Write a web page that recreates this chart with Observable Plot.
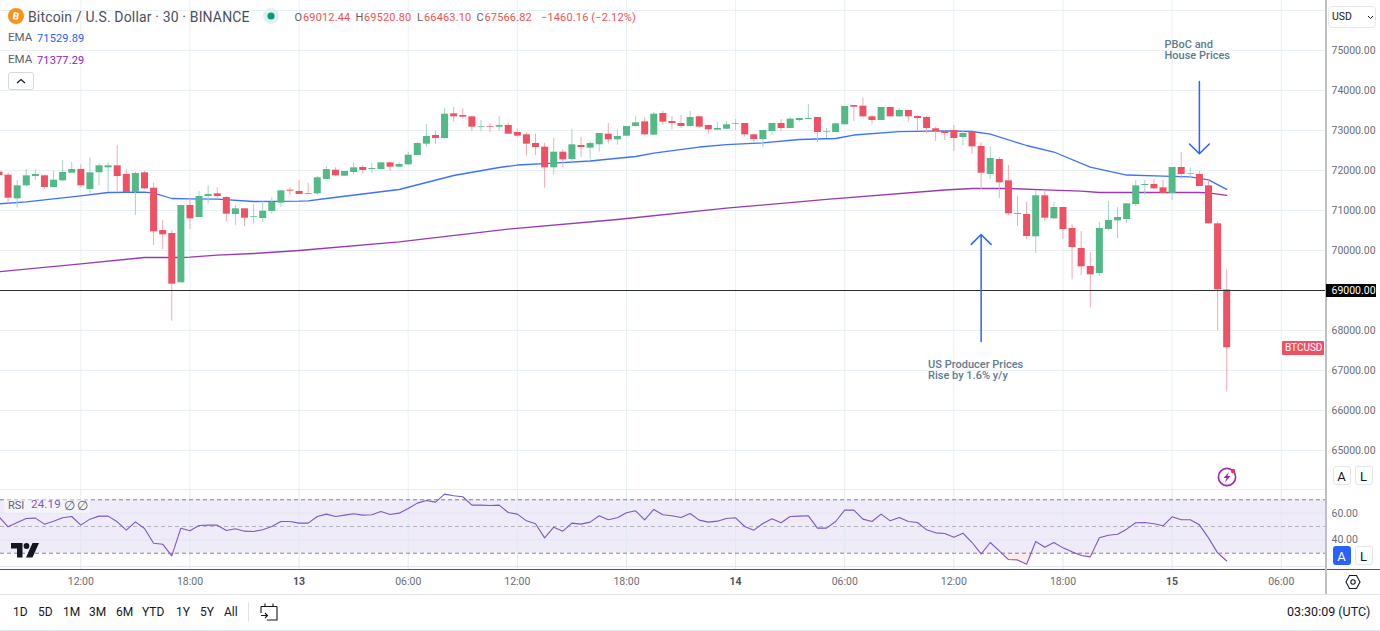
<!DOCTYPE html>
<html>
<head>
<meta charset="utf-8">
<script src="https://cdn.jsdelivr.net/npm/d3@7"></script>
<script src="https://cdn.jsdelivr.net/npm/@observablehq/plot@0.6"></script>
<style>
html,body{margin:0;padding:0;background:#fff;}
#page{position:relative;width:1380px;height:631px;overflow:hidden;font-family:Roboto,sans-serif;background:#fff;}
#page svg{display:block;}
#page svg.plot{position:absolute;left:0;background:transparent;}
.t{position:absolute;white-space:nowrap;transform:translateY(-50%);line-height:1;}
.box{position:absolute;box-sizing:border-box;}
</style>
</head>
<body>
<div id="page"></div>
<script>
// ---------- data: 30-minute BTC/USD candles, last bar 15 Mar 03:00 UTC ----------
const lastBar = Date.UTC(2024, 2, 15, 3, 0);
const barMinutes = 30;
const open = [71960,71883,71292,71617,71850,71867,71575,71742,71933,72025,71525,71942,72067,72117,71900,71450,71942,71558,70500,70425,69192,71125,70825,71350,71417,71325,70900,71042,70833,70800,70975,71183,71508,71475,71425,71417,71775,72008,71858,71950,72075,72025,72025,72192,72083,72142,72375,72658,72875,72800,73417,73375,73342,73083,73100,73083,73125,72950,72892,72675,72583,72067,72458,72275,72625,72558,72642,72908,72767,72858,73100,73217,72883,73425,73225,73175,73100,73342,73125,73008,73033,73158,73175,72892,72775,72975,73175,73050,73250,73275,73325,72958,72950,73142,73625,73608,73342,73250,73575,73342,73500,73350,73325,73042,72975,73000,72825,72975,72600,71900,72275,71742,70917,70900,70342,71367,70792,71075,70550,70050,69600,69425,70525,70742,70775,71150,71625,71650,71567,71425,72075,71908,71900,71617,70667,69012.44];
const close = [71875,71308,71617,71867,71900,71575,71758,71950,72025,71617,71942,72117,72117,71850,71450,71925,71542,70467,70392,69158,71125,70792,71350,71400,71350,70908,71042,70808,70850,70983,71200,71492,71483,71400,71408,71817,72025,71867,71975,72067,72000,72050,72192,72083,72150,72383,72675,72850,72800,73408,73342,73333,73083,73100,73083,73125,72908,72858,72658,72575,72067,72458,72267,72642,72575,72675,72925,72767,72850,73100,73192,72892,73408,73208,73175,73100,73325,73083,73017,73050,73142,73175,72892,72775,73000,73175,73050,73283,73300,73300,72950,72975,73167,73600,73583,73342,73250,73575,73342,73500,73342,73300,73050,72975,72925,72800,72925,72592,71933,72300,71692,70917,70900,70350,71367,70808,71075,70525,70075,69592,69392,70550,70750,70825,71167,71617,71650,71542,71425,72075,71900,71925,71600,70667,69017,67566.82];
const high = [71960,71933,71750,72025,72017,71883,71975,72250,72200,72142,72317,72167,72192,72625,72017,71967,71983,71683,70750,70500,71125,71292,71475,71617,71567,71350,71125,71042,71150,71233,71317,71492,71575,71750,71683,71850,72100,72067,71975,72192,72125,72175,72200,72200,72200,72458,72708,73150,72983,73550,73575,73542,73358,73250,73167,73342,73192,73042,72942,72908,72683,72800,72517,73025,72825,72708,72925,73175,73017,73100,73342,73317,73442,73483,73350,73375,73475,73358,73125,73200,73217,73275,73175,72892,73000,73175,73275,73317,73300,73650,73325,73058,73175,73600,73625,73800,73375,73575,73575,73550,73500,73375,73350,73075,73000,73125,73000,72975,72700,72575,72325,72125,71350,71200,71492,71492,71200,71075,70650,70475,69950,70700,71225,71075,71167,71750,71750,71775,71750,72075,72450,72058,71975,71750,70717,69520.8];
const low = [71875,71167,71058,71583,71750,71533,71575,71725,71933,71558,71417,71617,71458,71458,71450,70875,71517,70125,70025,68233,69192,70525,70825,71167,71275,70717,70625,70600,70658,70700,70900,71075,71383,71400,71400,71383,71775,71850,71850,71892,71908,71917,72017,71983,72075,72125,72375,72583,72658,72783,73217,73292,72967,72967,72942,72983,72908,72833,72358,72375,71558,71883,72058,72200,72325,72275,72458,72658,72633,72842,73083,72875,72883,73133,73017,73050,73083,73050,72892,73000,73025,73000,72833,72692,72575,72875,72983,73050,73208,73275,72700,72800,72950,73142,73225,73333,73150,73250,73333,73333,73217,73000,72925,72725,72750,72475,72600,72400,71525,71775,71300,70867,70600,70275,69925,70717,70775,70275,69267,69375,68567,69350,70500,70300,70667,71100,71375,71525,71425,71250,71775,71800,71600,70667,67992,66463.1];
const rsi = [57.25,49.75,53,56,56.25,51.75,54,56.5,57.5,51,55.5,57.75,57.75,53.5,47.25,53.5,48.5,37.5,36.75,28,48.75,46.75,50.75,51,51,47,48.25,46.5,46.25,47.5,50,53.75,53.75,52.5,52.5,57.5,59.25,57.5,58.5,59.5,58.5,58.75,61.25,59,60,63.5,67.5,69.5,68.25,74.25,73,72.25,66,66,65.75,66,60.5,59.25,54.25,52,41.5,49.5,46.5,52.5,51.75,53.25,58,55,56.5,60.25,61.75,55,62.75,58.75,58,56.75,59.75,54.75,53.25,54,56,56.5,50,47.25,52.25,55.75,52.75,57.5,57.75,58,48.75,48.75,53.75,62.25,62.25,55.5,53.75,59.25,54.25,56.75,53.75,53,47.5,45.25,44.75,42,45,38,29.5,38,31.75,25.25,25,21.75,38.75,34.5,38,34,31,28.25,27.25,41.5,43.5,44.25,48,52.75,53,52,50.5,57.25,55,55,51.25,41.5,30.25,24.19];
// EMA readings: bar number (1 = first bar) and price
const emaFastBars = [1,4,7,10,13,17,18,20,22,25,29,34,35,37,45,51,56,58,62,66,71,73,78,81,85,89,93,95,100,105,108,110,114,117,121,125,129,132,134,136];
const emaFastVals = [71167,71217,71292,71367,71450,71457,71437,71300,71292,71282,71225,71232,71242,71300,71525,71875,72075,72137,72182,72237,72350,72437,72587,72645,72692,72775,72800,72887,72970,72992,72975,72907,72625,72462,72082,71887,71857,71842,71767,71529.89];
const emaSlowBars = [1,10,17,21,22,25,29,34,45,57,69,81,92,105,108,112,116,120,122,130,133,134,136];
const emaSlowVals = [69467,69667,69825,69825,69832,69882,69925,70000,70217,70532,70775,71057,71280,71512,71550,71550,71517,71482,71450,71450,71450,71442,71377.29];

const priceTicks = [75000,74000,73000,72000,71000,70000,69000,68000,67000,66000,65000];
const priceGrid = [76000,...priceTicks];
const rsiTicks = [60,40];
const rsiGrid = [60,40,20];
const hourTicks = ["2024-03-12T12:00Z","2024-03-12T18:00Z","2024-03-13T06:00Z","2024-03-13T12:00Z","2024-03-13T18:00Z","2024-03-14T06:00Z","2024-03-14T12:00Z","2024-03-14T18:00Z","2024-03-15T06:00Z"].map(d=>new Date(d));
const dayTicks = ["2024-03-13T00:00Z","2024-03-14T00:00Z","2024-03-15T00:00Z"].map(d=>new Date(d));
const xDomain = [new Date("2024-03-12T07:35:00Z"), new Date("2024-03-15T08:29:18Z")];
const level = 69000;

const barTime = n => new Date(lastBar - (136 - n) * barMinutes * 60000); // n is 1-based
const bars = open.map((o,i)=>({t:barTime(i+1),o,c:close[i],h:high[i],l:low[i],r:rsi[i]}));
const emaFast = emaFastBars.map((b,i)=>({t:barTime(b),v:emaFastVals[i]}));
const emaSlow = emaSlowBars.map((b,i)=>({t:barTime(b),v:emaSlowVals[i]}));
const arrows = [
  {x:barTime(109),from:67725,to:70400},
  {x:barTime(133),from:74225,to:72417}
];
const notes = [
  {x:barTime(103),y:67025,text:"US Producer Prices\nRise by 1.6% y/y"},
  {x:new Date("2024-03-14T23:30Z"),y:75025,text:"PBoC and\nHouse Prices"}
];

const RED="#ef5164", GREEN="#53b987", GRID="#e9f0f5", AXIS="#6a6d78";
const FONT="Roboto,sans-serif";
const up = d=>d.c>=d.o;
const page = document.getElementById("page");

// ---------- price pane ----------
const price = Plot.plot({
  width:1380,height:489,marginLeft:0,marginRight:54,marginTop:0,marginBottom:0,
  style:{fontFamily:FONT,overflow:"hidden"},
  x:{type:"utc",domain:xDomain,axis:null},
  y:{domain:[64025,76250],axis:null},
  marks:[
    Plot.ruleY(priceGrid,{stroke:GRID,strokeWidth:1}),
    Plot.ruleX([...hourTicks,...dayTicks],{stroke:GRID,strokeWidth:1}),
    Plot.line(emaSlow,{x:"t",y:"v",stroke:"#8e24aa",strokeWidth:1.3,strokeOpacity:.9}),
    Plot.line(emaFast,{x:"t",y:"v",stroke:"#2962ff",strokeWidth:1.3,strokeOpacity:.9}),
    Plot.ruleX(bars,{x:"t",y1:"l",y2:"h",stroke:d=>up(d)?"#a6d4c6":"#f8a9b3",strokeWidth:1}),
    Plot.ruleX(bars,{x:"t",y1:"o",y2:"c",stroke:d=>up(d)?GREEN:RED,strokeWidth:7}),
    Plot.ruleY([level],{stroke:"#2f3033",strokeWidth:1}),
    Plot.arrow(arrows,{x:"x",y1:"from",y2:"to",stroke:"#2962ff",strokeWidth:1.5,headLength:14,headAngle:90,bend:0}),
    Plot.text(notes,{x:"x",y:"y",text:"text",textAnchor:"start",dx:1.5,fill:"#5d7c8e",fontSize:11,fontWeight:500,lineHeight:1,letterSpacing:"0.2px"}),
    Plot.axisY(priceTicks,{anchor:"right",tickSize:0,tickPadding:5,tickFormat:d=>d.toFixed(2),fontSize:10.5,color:AXIS,label:null,stroke:"none"})
  ]
});
price.style.top="0px";
price.classList.add("plot");
page.appendChild(price);

// ---------- RSI pane + time axis ----------
const rsiPlot = Plot.plot({
  width:1380,height:106,marginLeft:0,marginRight:54,marginTop:0,marginBottom:26,
  style:{fontFamily:FONT,overflow:"hidden"},
  x:{type:"utc",domain:xDomain,axis:null},
  y:{domain:[17.8,77.7],axis:null},
  marks:[
    Plot.rectY([0],{x1:xDomain[0],x2:xDomain[1],y1:30,y2:70,fill:"#7e57c2",fillOpacity:.12}),
    Plot.ruleY(rsiGrid,{stroke:"#e2e5f2",strokeWidth:1}),
    Plot.ruleX([...hourTicks,...dayTicks],{stroke:"#e2e8f2",strokeWidth:1}),
    Plot.ruleY([70,30],{stroke:"#82848f",strokeWidth:1,strokeDasharray:"4 3"}),
    Plot.ruleY([50],{stroke:"#b4b4bf",strokeWidth:1,strokeDasharray:"4 3"}),
    Plot.areaY(bars,{x:"t",y1:30,y2:d=>Math.min(d.r,30),fill:"#ef5350",fillOpacity:.12,curve:"linear"}),
    Plot.line(bars,{x:"t",y:"r",stroke:"#7e57c2",strokeWidth:1.1}),
    Plot.axisY(rsiTicks,{anchor:"right",tickSize:0,tickPadding:5,tickFormat:d=>d.toFixed(2),fontSize:10.5,color:AXIS,label:null,stroke:"none"}),
    Plot.axisX({anchor:"bottom",ticks:hourTicks,tickSize:0,tickPadding:8,tickFormat:d3.utcFormat("%H:%M"),fontSize:10.5,color:AXIS,label:null,stroke:"none"}),
    Plot.axisX({anchor:"bottom",ticks:dayTicks,tickSize:0,tickPadding:8,tickFormat:d3.utcFormat("%-d"),fontSize:10.5,fontWeight:700,color:"#50535e",label:null,stroke:"none"})
  ]
});
rsiPlot.style.top="489px";
rsiPlot.classList.add("plot");
page.appendChild(rsiPlot);

// ---------- chrome ----------
function txt(s,x,y,css={}){const e=document.createElement("div");e.className="t";e.textContent=s;e.style.left=x+"px";e.style.top=y+"px";Object.assign(e.style,css);page.appendChild(e);return e;}
function box(x,y,w,h,css={}){const e=document.createElement("div");e.className="box";Object.assign(e.style,{left:x+"px",top:y+"px",width:w+"px",height:h+"px"},css);page.appendChild(e);return e;}
function svg(x,y,w,h,inner){const e=document.createElement("div");e.style.cssText=`position:absolute;left:${x}px;top:${y}px;width:${w}px;height:${h}px;`;e.innerHTML=`<svg width="${w}" height="${h}" viewBox="0 0 ${w} ${h}" xmlns="http://www.w3.org/2000/svg">${inner}</svg>`;page.appendChild(e);}

// frame lines
box(0,489,1325,1,{background:"#eceef2"});
box(0,569,1380,1,{background:"#55585f"});
box(0,594,1380,1,{background:"#e6e8ee"});
box(0,630,1380,1,{background:"#e0e3eb"});
box(1325,0,1.5,594,{background:"#bdbfc4"});

// level + last-price tags
box(1326,284,50,13,{background:"#000"});
txt("69000.00",1331.5,290.7,{color:"#fff",fontSize:"10.5px"});
box(1282,341,42,13.5,{background:RED,borderRadius:"1px"});
txt("BTCUSD",1285,348,{color:"#fff",fontSize:"10px"});

// legend
const DARK="#5c5f6a", VAL="#ef5350";
svg(8,8,16,16,`<circle cx="8" cy="8" r="8" fill="#f7931a"/><text x="8" y="11.5" text-anchor="middle" font-size="10" font-weight="700" font-family="Roboto" fill="#fff" transform="rotate(10 8 8)">B</text>`);
txt("Bitcoin / U.S. Dollar · 30 · BINANCE",28,16.5,{color:"#4c4f5a",fontSize:"14px",letterSpacing:"0.15px"});
svg(263,8,16,16,`<circle cx="8" cy="8" r="8" fill="#dff2ee"/><circle cx="8" cy="8" r="3.6" fill="#089981"/>`);
const ohlc=[["O",294.5],["69012.44",303],["H",355.5],["69520.80",364],["L",417],["66463.10",424],["C",476.5],["67566.82",484.5],["−1460.16 (−2.12%)",541]];
ohlc.forEach(([s,x],i)=>txt(s,x,16.5,{color:(i%2===0&&i<8)?DARK:VAL,fontSize:"11px",letterSpacing:"0.15px"}));
txt("EMA",8,38,{color:DARK,fontSize:"11.5px"});
txt("71529.89",37,38,{color:"#2962ff",fontSize:"11px",letterSpacing:"0.15px"});
txt("EMA",8,59.5,{color:DARK,fontSize:"11.5px"});
txt("71377.29",37,59.5,{color:"#8e24aa",fontSize:"11px",letterSpacing:"0.15px"});
box(8,72,25.5,17.5,{background:"#fff",border:"1px solid #d6d8de",borderRadius:"3px"});
svg(15.5,77.5,10,6,`<path d="M1 5L5 1.5L9 5" fill="none" stroke="#131722" stroke-width="1.2"/>`);

// RSI legend
box(4,496,86,17,{background:"rgba(255,255,255,.45)",borderRadius:"2px"});
txt("RSI",8,504.5,{color:DARK,fontSize:"11px"});
txt("24.19",31,504.5,{color:"#7e57c2",fontSize:"11.5px",letterSpacing:"0.2px"});
txt("∅",64,504.5,{color:DARK,fontSize:"13px"});
txt("∅",77,504.5,{color:DARK,fontSize:"13px"});

// TV logo
svg(10.5,542.5,28,15,`<path fill="#131722" d="M0 0h11.5v14.5H6V5.5H0zM28 0L21.5 14.5H15L21.5 0z"/><circle cx="15.5" cy="3" r="2.9" fill="#131722"/>`);

// bolt icon
svg(1216,466,22,22,`<circle cx="11" cy="11" r="8.6" fill="none" stroke="#9c27b0" stroke-width="1.6"/><path d="M13 6L7.5 12H10.5L9 16.5L14.5 10H11.5z" fill="#9c27b0"/><circle cx="17" cy="5" r="2.2" fill="#f23645"/>`);

// price-axis buttons
const btn=(s,x,y,on)=>{box(x,y,18,19,{background:on?"#2962ff":"#fff",border:on?"none":"1px solid #e3e5ea",borderRadius:"3px"});const e=txt(s,x+9,y+10,{color:on?"#fff":"#131722",fontSize:"13px"});e.style.transform="translate(-50%,-50%)";};
btn("A",1332.5,466,false);btn("L",1354.5,466,false);btn("A",1332.5,546,true);btn("L",1354.5,546,false);

// USD box
box(1328,6,48,22,{background:"#fff",border:"1px solid #e6e8ee",borderRadius:"4px"});
txt("USD",1332,16.5,{color:"#131722",fontSize:"10.5px"});
svg(1367,14.5,7,5,`<path d="M1 1L3.5 3.5L6 1" fill="none" stroke="#131722" stroke-width="1"/>`);

// settings hexagon
svg(1345,574,16,16,`<path d="M4.5 1.5H11.5L15 8L11.5 14.5H4.5L1 8z" fill="none" stroke="#131722" stroke-width="1.1"/><circle cx="8" cy="8" r="2.2" fill="none" stroke="#131722" stroke-width="1.1"/>`);

// bottom toolbar
const ranges=["1D","5D","1M","3M","6M","YTD","1Y","5Y","All"];
const rangeX=[13,38,63,89,116,142,176,200,224];
ranges.forEach((s,i)=>txt(s,rangeX[i],612,{color:"#131722",fontSize:"12px"}));
box(248,602,1,20,{background:"#e0e3eb"});
svg(260,602,18,19,`<path d="M1 4.5H17M1 4.5V11M17 4.5V18H7M5 1.5V4.5M13 1.5V4.5M1 13.5H7M5 11L7.5 13.5L5 16" fill="none" stroke="#131722" stroke-width="1.1"/>`);
txt("03:30:09 (UTC)",1287,612,{color:"#131722",fontSize:"12.5px"});
</script>
</body>
</html>
